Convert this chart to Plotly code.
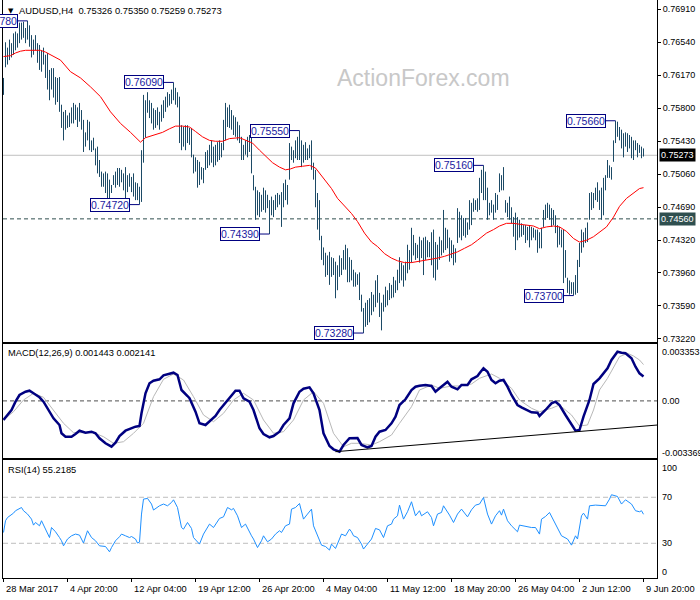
import plotly.graph_objects as go

# ---------------- data ----------------
symbol_title = "AUDUSD,H4"
last_bar = [0.75326, 0.75350, 0.75259, 0.75273]   # open, high, low, close of the last bar

# H4 bars, index 0 = 28 Mar 2017 ... index 320 = 9 Jun 20:00
high = [
    0.7614, 0.7654, 0.7648, 0.7657, 0.7653, 0.7664, 0.7666, 0.7664, 0.7676, 0.7676,
    0.7677, 0.7670, 0.7678, 0.7673, 0.7662, 0.7657, 0.7662, 0.7653, 0.7651, 0.7645,
    0.7648, 0.7640, 0.7642, 0.7623, 0.7625, 0.7625, 0.7615, 0.7614, 0.7615, 0.7584,
    0.7576, 0.7578, 0.7572, 0.7575, 0.7581, 0.7586, 0.7584, 0.7581, 0.7586, 0.7578,
    0.7567, 0.7553, 0.7567, 0.7565, 0.7544, 0.7547, 0.7535, 0.7537, 0.7522, 0.7509,
    0.7507, 0.7509, 0.7507, 0.7500, 0.7494, 0.7505, 0.7509, 0.7513, 0.7513, 0.7511,
    0.7507, 0.7514, 0.7505, 0.7507, 0.7503, 0.7507, 0.7497, 0.7496, 0.7492, 0.7533,
    0.7595, 0.7589, 0.7598, 0.7589, 0.7586, 0.7580, 0.7578, 0.7581, 0.7576, 0.7584,
    0.7589, 0.7593, 0.7598, 0.7596, 0.7601, 0.7609, 0.7603, 0.7598, 0.7593, 0.7561,
    0.7559, 0.7561, 0.7561, 0.7558, 0.7558, 0.7528, 0.7525, 0.7522, 0.7520, 0.7514,
    0.7513, 0.7531, 0.7533, 0.7539, 0.7544, 0.7537, 0.7539, 0.7542, 0.7544, 0.7541,
    0.7567, 0.7586, 0.7581, 0.7584, 0.7578, 0.7572, 0.7570, 0.7565, 0.7561, 0.7548,
    0.7539, 0.7544, 0.7548, 0.7550, 0.7553, 0.7505, 0.7492, 0.7488, 0.7486, 0.7483,
    0.7491, 0.7488, 0.7483, 0.7477, 0.7481, 0.7477, 0.7483, 0.7485, 0.7483, 0.7486,
    0.7496, 0.7500, 0.7494, 0.7541, 0.7537, 0.7533, 0.7544, 0.7548, 0.7555, 0.7544,
    0.7539, 0.7542, 0.7535, 0.7539, 0.7544, 0.7519, 0.7511, 0.7485, 0.7477, 0.7437,
    0.7424, 0.7418, 0.7415, 0.7419, 0.7413, 0.7412, 0.7408, 0.7404, 0.7415, 0.7412,
    0.7421, 0.7427, 0.7423, 0.7413, 0.7410, 0.7399, 0.7396, 0.7394, 0.7396, 0.7371,
    0.7356, 0.7362, 0.7365, 0.7367, 0.7374, 0.7371, 0.7387, 0.7393, 0.7373, 0.7362,
    0.7371, 0.7380, 0.7376, 0.7384, 0.7382, 0.7391, 0.7387, 0.7399, 0.7413, 0.7407,
    0.7404, 0.7408, 0.7427, 0.7421, 0.7446, 0.7438, 0.7429, 0.7427, 0.7436, 0.7432,
    0.7435, 0.7436, 0.7432, 0.7430, 0.7441, 0.7444, 0.7430, 0.7427, 0.7436, 0.7432,
    0.7466, 0.7446, 0.7444, 0.7435, 0.7432, 0.7427, 0.7423, 0.7468, 0.7464, 0.7460,
    0.7457, 0.7457, 0.7452, 0.7477, 0.7474, 0.7479, 0.7477, 0.7479, 0.7502, 0.7511,
    0.7516, 0.7509, 0.7491, 0.7474, 0.7477, 0.7472, 0.7485, 0.7483, 0.7507, 0.7505,
    0.7514, 0.7477, 0.7474, 0.7481, 0.7469, 0.7458, 0.7463, 0.7458, 0.7455, 0.7451,
    0.7449, 0.7449, 0.7447, 0.7449, 0.7447, 0.7446, 0.7444, 0.7444, 0.7441, 0.7446,
    0.7466, 0.7472, 0.7474, 0.7472, 0.7468, 0.7466, 0.7460, 0.7449, 0.7447, 0.7444,
    0.7444, 0.7421, 0.7390, 0.7387, 0.7385, 0.7385, 0.7393, 0.7410, 0.7429, 0.7444,
    0.7441, 0.7446, 0.7452, 0.7485, 0.7486, 0.7485, 0.7491, 0.7497, 0.7488, 0.7491,
    0.7502, 0.7505, 0.7522, 0.7516, 0.7514, 0.7544, 0.7566, 0.7565, 0.7559, 0.7556,
    0.7552, 0.7553, 0.7552, 0.7550, 0.7548, 0.7544, 0.7544, 0.7541, 0.7539, 0.7537,
    0.75350,
]
low = [
    0.7595, 0.7626, 0.7629, 0.7634, 0.7637, 0.7640, 0.7645, 0.7648, 0.7653, 0.7657,
    0.7659, 0.7653, 0.7657, 0.7649, 0.7637, 0.7640, 0.7645, 0.7631, 0.7623, 0.7621,
    0.7629, 0.7614, 0.7601, 0.7589, 0.7601, 0.7592, 0.7584, 0.7587, 0.7576, 0.7558,
    0.7544, 0.7556, 0.7558, 0.7559, 0.7563, 0.7563, 0.7567, 0.7559, 0.7565, 0.7556,
    0.7531, 0.7537, 0.7544, 0.7533, 0.7531, 0.7533, 0.7516, 0.7507, 0.7503, 0.7492,
    0.7492, 0.7485, 0.7477, 0.7477, 0.7485, 0.7494, 0.7491, 0.7494, 0.7492, 0.7497,
    0.7488, 0.7477, 0.7486, 0.7492, 0.7486, 0.7481, 0.7477, 0.7477, 0.7472, 0.7475,
    0.7519, 0.7547, 0.7575, 0.7569, 0.7563, 0.7556, 0.7558, 0.7561, 0.7556, 0.7565,
    0.7569, 0.7576, 0.7581, 0.7583, 0.7585, 0.7589, 0.7584, 0.7581, 0.7541, 0.7533,
    0.7537, 0.7533, 0.7541, 0.7539, 0.7525, 0.7507, 0.7509, 0.7491, 0.7494, 0.7500,
    0.7496, 0.7511, 0.7513, 0.7516, 0.7519, 0.7514, 0.7516, 0.7520, 0.7522, 0.7525,
    0.7533, 0.7544, 0.7559, 0.7558, 0.7556, 0.7550, 0.7548, 0.7544, 0.7541, 0.7522,
    0.7522, 0.7528, 0.7525, 0.7531, 0.7507, 0.7488, 0.7455, 0.7460, 0.7458, 0.7464,
    0.7466, 0.7463, 0.7468, 0.7439, 0.7460, 0.7458, 0.7466, 0.7469, 0.7472, 0.7447,
    0.7469, 0.7477, 0.7472, 0.7500, 0.7522, 0.7519, 0.7524, 0.7522, 0.7522, 0.7514,
    0.7519, 0.7522, 0.7522, 0.7524, 0.7511, 0.7500, 0.7469, 0.7444, 0.7432, 0.7410,
    0.7404, 0.7391, 0.7393, 0.7382, 0.7391, 0.7393, 0.7367, 0.7376, 0.7391, 0.7393,
    0.7399, 0.7399, 0.7385, 0.7385, 0.7387, 0.7380, 0.7380, 0.7382, 0.7365, 0.7352,
    0.7328, 0.7335, 0.7337, 0.7340, 0.7348, 0.7352, 0.7357, 0.7362, 0.7346, 0.7331,
    0.7352, 0.7357, 0.7359, 0.7365, 0.7367, 0.7368, 0.7373, 0.7376, 0.7384, 0.7387,
    0.7380, 0.7387, 0.7395, 0.7399, 0.7407, 0.7415, 0.7410, 0.7412, 0.7407, 0.7412,
    0.7393, 0.7410, 0.7413, 0.7413, 0.7404, 0.7390, 0.7387, 0.7399, 0.7410, 0.7415,
    0.7418, 0.7421, 0.7423, 0.7408, 0.7412, 0.7404, 0.7407, 0.7429, 0.7435, 0.7432,
    0.7437, 0.7435, 0.7438, 0.7444, 0.7449, 0.7464, 0.7466, 0.7464, 0.7466, 0.7485,
    0.7477, 0.7477, 0.7455, 0.7460, 0.7463, 0.7455, 0.7463, 0.7466, 0.7486, 0.7488,
    0.7488, 0.7463, 0.7458, 0.7455, 0.7451, 0.7436, 0.7421, 0.7432, 0.7435, 0.7436,
    0.7438, 0.7429, 0.7432, 0.7424, 0.7432, 0.7435, 0.7432, 0.7418, 0.7423, 0.7423,
    0.7447, 0.7455, 0.7457, 0.7455, 0.7447, 0.7449, 0.7440, 0.7424, 0.7427, 0.7424,
    0.7384, 0.7390, 0.7373, 0.7371, 0.7372, 0.7370, 0.7371, 0.7373, 0.7402, 0.7418,
    0.7424, 0.7429, 0.7430, 0.7455, 0.7466, 0.7468, 0.7477, 0.7475, 0.7466, 0.7455,
    0.7460, 0.7488, 0.7502, 0.7502, 0.7500, 0.7520, 0.7541, 0.7548, 0.7544, 0.7535,
    0.7525, 0.7537, 0.7531, 0.7535, 0.7524, 0.7522, 0.7533, 0.7525, 0.7530, 0.7524,
    0.75259,
]

# moving average (red), sampled along the bar index
ma_index = [0, 3.5, 6, 8.5, 11, 13.5, 18.5, 21, 23.5, 28.5, 33.5, 38.5, 43.5, 48.5, 53.5,
            58.5, 63.5, 66, 68.5, 71, 73.5, 79.5, 83, 86, 89.5, 93, 96, 99.5, 103, 106,
            109.5, 113, 118, 121, 124.5, 128, 131, 134.5, 138, 141, 143.5, 146, 149.5,
            153, 156, 160, 164, 167, 170.5, 174, 177, 180.5, 184, 187, 190.5, 194, 197,
            200.5, 204, 207, 210.5, 214, 217, 220.5, 224, 227, 230.5, 234, 237, 241.5,
            245, 248, 251.5, 255, 258, 261.5, 265, 268, 271.5, 275, 278, 281.5, 285, 288,
            291.5, 295, 298, 301.5, 305, 308, 311.5, 315, 318, 320]
ma_value = [0.7638, 0.7639, 0.7642, 0.7644, 0.7645, 0.7645, 0.7645, 0.7643, 0.7640, 0.7634,
            0.7621, 0.7614, 0.7604, 0.7593, 0.7576, 0.7563, 0.7553, 0.7548, 0.7542, 0.7547,
            0.7549, 0.7553, 0.7557, 0.7560, 0.7560, 0.7559, 0.7554, 0.7548, 0.7544, 0.7543,
            0.7543, 0.7546, 0.7547, 0.7544, 0.7541, 0.7533, 0.7526, 0.7519, 0.7514, 0.7511,
            0.7512, 0.7514, 0.7515, 0.7516, 0.7513, 0.7501, 0.7490, 0.7479, 0.7470, 0.7462,
            0.7453, 0.7440, 0.7430, 0.7425, 0.7417, 0.7412, 0.7409, 0.7407, 0.7407, 0.7408,
            0.7410, 0.7411, 0.7412, 0.7414, 0.7417, 0.7419, 0.7423, 0.7427, 0.7432, 0.7440,
            0.7444, 0.7448, 0.7451, 0.7451, 0.7450, 0.7449, 0.7448, 0.7445, 0.7447, 0.7448,
            0.7447, 0.7442, 0.7434, 0.7430, 0.7432, 0.7436, 0.7441, 0.7447, 0.7458, 0.7470,
            0.7479, 0.7485, 0.7490, 0.7491]

# labelled swing highs / lows
swing_index = [12, 85, 68, 148, 133, 180, 240, 285, 306]
swing_price = [0.7678, 0.7609, 0.7472, 0.7555, 0.7439, 0.7328, 0.7516, 0.7370, 0.7566]
support_level = 0.74560

# MACD(12,26,9)
macd_index = [0, 4, 6, 8, 11, 13, 15, 18, 20, 23, 25, 28, 29, 31, 34, 36, 38, 41, 44, 46,
              48, 51, 54, 56, 58, 61, 64, 66, 68, 69, 71, 73, 75, 78, 80, 83, 85, 87, 89, 92,
              93, 96, 98, 101, 104, 106, 108, 111, 114, 116, 118, 120, 123, 125, 128, 130,
              133, 135, 138, 140, 143, 145, 148, 150, 153, 155, 158, 160, 163, 165, 168, 170,
              173, 177, 179, 182, 184, 186, 188, 191, 194, 196, 198, 201, 204, 206, 208, 211,
              214, 216, 218, 222, 224, 227, 229, 232, 234, 237, 238, 240, 242, 244, 246, 248,
              250, 252, 254, 257, 259, 262, 264, 267, 268, 271, 274, 276, 278, 281, 284, 286,
              288, 290, 293, 295, 298, 300, 302, 304, 307, 309, 311, 314, 316, 318, 320]
macd_value = [-0.001126, -0.000537, -0.000047, 0.000348, 0.000542, 0.000601, 0.000448,
              0.000212, -0.000047, -0.000637, -0.001026, -0.001421, -0.001911, -0.002111,
              -0.002111, -0.001952, -0.001757, -0.001875, -0.001816, -0.001911, -0.002205,
              -0.002500, -0.002701, -0.002465, -0.002070, -0.001757, -0.001616, -0.001521,
              -0.001480, -0.000731, 0.000448, 0.001038, 0.001191, 0.001274, 0.001510,
              0.001627, 0.001663, 0.001527, 0.000643, 0.000289, 0.000153, -0.000637,
              -0.001321, -0.001421, -0.001126, -0.000890, -0.000537, -0.000106, 0.000348,
              0.000601, 0.000601, 0.000153, -0.000047, -0.000537, -0.001616, -0.001952,
              -0.002146, -0.002070, -0.001816, -0.001421, -0.001026, -0.000142, 0.000542,
              0.000719, 0.000802, 0.000448, -0.000537, -0.001911, -0.002659, -0.002854,
              -0.002995, -0.002600, -0.002205, -0.002188, -0.002600, -0.002736, -0.002659,
              -0.002111, -0.001816, -0.001716, -0.001321, -0.000932, -0.000242, 0.000094,
              0.000643, 0.000837, 0.000896, 0.000938, 0.000879, 0.000542, 0.000743,
              0.001132, 0.000837, 0.000684, 0.000938, 0.000938, 0.001274, 0.001468,
              0.001627, 0.001922, 0.001722, 0.001232, 0.001038, 0.001191, 0.001232,
              0.000837, 0.000348, -0.000242, -0.000377, -0.000537, -0.000672, -0.000696,
              -0.000890, -0.000537, -0.000142, -0.000047, -0.000242, -0.000831, -0.001421,
              -0.001757, -0.001716, -0.000932, 0.000053, 0.000997, 0.001333, 0.001627,
              0.001922, 0.002412, 0.002901, 0.002842, 0.002807, 0.002512, 0.002017,
              0.001627, 0.001443]
signal_index = [0, 5, 10, 15, 20, 25, 30, 35, 40, 45, 50, 55, 60, 65, 70, 75, 80, 85, 90, 95,
                100, 105, 110, 115, 120, 125, 130, 135, 140, 145, 150, 155, 160, 165, 170,
                174, 178, 184, 188, 194, 198, 204, 208, 214, 218, 224, 228, 234, 238, 244,
                248, 254, 258, 264, 268, 274, 278, 284, 288, 292, 295, 298, 302, 305, 308,
                312, 315, 318, 320]
signal_value = [-0.001126, -0.000637, 0.000053, 0.000448, 0.000212, -0.000537, -0.001321,
                -0.001875, -0.001875, -0.001875, -0.002111, -0.002500, -0.002406, -0.001911,
                -0.001321, 0.000248, 0.001274, 0.001586, 0.001232, 0.000248, -0.000831,
                -0.001226, -0.000731, 0.000053, 0.000448, 0.000053, -0.001126, -0.001911,
                -0.001816, -0.001126, 0.000053, 0.000542, -0.000142, -0.001911, -0.002701,
                -0.002500, -0.002500, -0.002600, -0.002406, -0.002011, -0.001321, -0.000342,
                0.000643, 0.000938, 0.000743, 0.000879, 0.000879, 0.000997, 0.001333,
                0.001586, 0.001333, 0.000743, 0.000053, -0.000436, -0.000637, -0.000436,
                -0.000242, -0.000831, -0.001480, -0.001421, -0.000537, 0.000643, 0.001333,
                0.002017, 0.002606, 0.002807, 0.002648, 0.002412, 0.002141]
macd_trend_index = [166, 327]
macd_trend_value = [-0.002995, -0.001421]
macd_max, macd_min = 0.003353, -0.003369

# RSI(14)
rsi_index = [0, 1, 2, 4, 5, 6, 8, 9, 10, 12, 14, 15, 16, 18, 19, 21, 23, 24, 26, 28, 29, 30,
             32, 34, 36, 38, 40, 42, 44, 46, 48, 51, 53, 54, 56, 58, 59, 61, 63, 64, 66, 67,
             68, 69, 70, 72, 74, 75, 78, 80, 82, 84, 85, 87, 89, 90, 92, 94, 95, 98, 100, 103,
             105, 108, 110, 112, 114, 115, 117, 119, 121, 124, 125, 127, 129, 130, 132, 134,
             136, 138, 139, 141, 143, 144, 146, 148, 149, 150, 152, 154, 155, 157, 159, 161,
             163, 164, 166, 168, 169, 171, 173, 174, 175, 177, 179, 180, 182, 184, 186, 188,
             190, 192, 194, 195, 197, 198, 200, 202, 204, 206, 208, 209, 212, 214, 215, 217,
             219, 220, 223, 225, 227, 229, 232, 234, 236, 238, 240, 242, 244, 246, 248, 249,
             250, 252, 254, 257, 258, 261, 264, 266, 268, 269, 271, 273, 275, 277, 279, 282,
             284, 286, 287, 289, 290, 292, 293, 296, 299, 301, 303, 304, 307, 309, 311, 314,
             316, 318, 319, 320]
rsi_value = [39.4, 49.6, 52.4, 54.5, 56.2, 58.3, 59.7, 61.1, 58.3, 55.4, 51.0, 45.8, 48.1,
             45.2, 49.6, 42.9, 35.0, 43.7, 40.0, 35.0, 32.2, 27.8, 33.7, 36.5, 38.0, 37.1,
             30.2, 40.9, 35.0, 32.2, 27.8, 27.2, 22.6, 26.3, 32.2, 35.7, 38.0, 36.5, 35.0,
             35.9, 33.7, 30.2, 31.0, 55.4, 68.4, 69.0, 64.1, 58.9, 62.6, 64.1, 62.6, 65.5,
             67.8, 61.1, 43.7, 42.3, 48.1, 42.9, 35.0, 29.3, 38.0, 46.7, 43.7, 51.6, 53.0,
             61.1, 59.1, 60.3, 53.9, 43.7, 46.7, 36.5, 33.7, 26.3, 32.2, 36.5, 31.3, 33.7,
             38.0, 40.9, 39.4, 45.2, 46.7, 59.7, 61.1, 64.6, 58.3, 51.0, 55.4, 59.7, 45.2,
             36.5, 28.4, 27.2, 24.1, 29.3, 25.5, 33.7, 38.0, 36.5, 42.3, 40.0, 36.5, 35.0,
             29.3, 25.0, 29.3, 33.7, 42.9, 41.7, 35.0, 45.2, 46.7, 51.0, 53.9, 63.2, 51.0,
             57.4, 66.1, 53.9, 58.3, 53.9, 57.4, 52.4, 45.2, 55.4, 56.8, 62.6, 54.5, 48.1,
             55.4, 59.7, 53.0, 59.1, 63.2, 64.1, 69.8, 55.4, 46.7, 53.9, 58.3, 54.5, 59.7,
             49.6, 45.2, 40.0, 45.8, 44.6, 43.7, 43.7, 38.0, 51.0, 53.3, 56.8, 49.6, 43.7,
             36.5, 33.7, 28.4, 36.5, 33.7, 53.9, 56.2, 51.0, 62.6, 63.2, 63.2, 62.6, 68.4,
             72.2, 70.7, 64.1, 67.8, 64.1, 58.3, 57.4, 58.3, 55.2185]
rsi_levels = [70, 30]

# axis ticks
price_ticks = [0.76910, 0.76540, 0.76170, 0.75800, 0.75430, 0.75060, 0.74690, 0.74320,
               0.73960, 0.73590, 0.73220]
x_tick_index = [0, 32, 64, 96, 128, 160, 192, 224, 256, 288, 320]
x_tick_text = ["28 Mar 2017", "4 Apr 20:00", "12 Apr 04:00", "19 Apr 12:00", "26 Apr 20:00",
               "4 May 04:00", "11 May 12:00", "18 May 20:00", "26 May 04:00", "2 Jun 12:00",
               "9 Jun 20:00"]

# ---------------- figure ----------------
FONT = "Liberation Sans, Arial, sans-serif"
BAR_C = "#1c4a66"
NAVY = "#000080"

W, H = 700, 600
ML, MR, MT, MB = 3, 43, 0, 22
PW, PH = W - ML - MR, H - MT - MB


def px_x(px):
    return (px - ML) / PW


def px_y(py):
    return (H - MB - py) / PH


bx, by = [], []
for i, (h, l) in enumerate(zip(high, low)):
    bx += [i, i, None]
    by += [l, h, None]

fig = go.Figure()
fig.add_trace(go.Scatter(x=bx, y=by, mode="lines", line=dict(color=BAR_C, width=1),
                         xaxis="x", yaxis="y", hoverinfo="skip"))
fig.add_trace(go.Scatter(x=ma_index, y=ma_value, mode="lines", line=dict(color="#ff0000", width=1),
                         xaxis="x", yaxis="y", hoverinfo="skip"))
fig.add_trace(go.Scatter(x=signal_index, y=signal_value, mode="lines",
                         line=dict(color="#b8b8b8", width=1), xaxis="x2", yaxis="y2"))
fig.add_trace(go.Scatter(x=macd_index, y=macd_value, mode="lines",
                         line=dict(color=NAVY, width=2.5), xaxis="x2", yaxis="y2"))
fig.add_trace(go.Scatter(x=macd_trend_index, y=macd_trend_value, mode="lines",
                         line=dict(color="#000000", width=1), xaxis="x2", yaxis="y2"))
fig.add_trace(go.Scatter(x=rsi_index, y=rsi_value, mode="lines",
                         line=dict(color="#1e90ff", width=1), xaxis="x3", yaxis="y3"))

xr = [-0.25, -0.25 + PW / 2.0]
ax_common = dict(range=xr, showline=True, mirror=True, linecolor="black", linewidth=1,
                 showgrid=False, zeroline=False, showticklabels=False)

main_lo = 0.77014 - 0.00011212 * 342
main_hi = 0.77014
fig.update_layout(
    width=W, height=H, margin=dict(l=ML, r=MR, t=MT, b=MB),
    paper_bgcolor="white", plot_bgcolor="white", showlegend=False,
    font=dict(family=FONT, size=9, color="black"),
    xaxis=dict(domain=[0, 1], anchor="y", ticks="", **ax_common),
    xaxis2=dict(domain=[0, 1], anchor="y2", matches="x", ticks="", **ax_common),
    xaxis3=dict(domain=[0, 1], anchor="y3", matches="x", ticks="outside", ticklen=3,
                tickcolor="black", tickvals=x_tick_index, **ax_common),
    yaxis=dict(domain=[236 / PH, 1], range=[main_lo, main_hi], side="right", anchor="x",
               showline=True, mirror=True, linecolor="black", linewidth=1, showgrid=False,
               zeroline=False, tickvals=price_ticks, ticktext=[f"{v:.5f}" for v in price_ticks],
               ticks="outside", ticklen=3, tickcolor="black",
               tickfont=dict(family=FONT, size=9, color="black")),
    yaxis2=dict(domain=[120 / PH, 234 / PH], range=[-0.003367, 0.003355], side="right", anchor="x2",
                showline=True, mirror=True, linecolor="black", linewidth=1, showgrid=False,
                zeroline=False, showticklabels=False),
    yaxis3=dict(domain=[0, 118 / PH], range=[-0.17, 102.4], side="right", anchor="x3",
                showline=True, mirror=True, linecolor="black", linewidth=1, showgrid=False,
                zeroline=False, showticklabels=False),
)

shapes = []
# current price line and support level
shapes.append(dict(type="line", xref="x domain", yref="y", x0=0, x1=1, y0=last_bar[3], y1=last_bar[3],
                   line=dict(color="#c0c0c0", width=1), layer="below"))
shapes.append(dict(type="line", xref="x domain", yref="y", x0=0, x1=1, y0=support_level, y1=support_level,
                   line=dict(color="#2f4f4f", width=1, dash="4px,3px"), layer="below"))
# MACD zero line
shapes.append(dict(type="line", xref="x2 domain", yref="y2", x0=0, x1=1, y0=0, y1=0,
                   line=dict(color="#505050", width=1, dash="4px,3px"), layer="below"))
# RSI levels
for lv in rsi_levels:
    shapes.append(dict(type="line", xref="x3 domain", yref="y3", x0=0, x1=1, y0=lv, y1=lv,
                       line=dict(color="#bdbdbd", width=1, dash="5px,3px"), layer="below"))
# swing label connectors
for si, sp in zip(swing_index, swing_price):
    shapes.append(dict(type="line", xref="x", yref="y", x0=si - 5, x1=si, y0=sp, y1=sp,
                       line=dict(color=NAVY, width=1)))
fig.update_layout(shapes=shapes)

ann = []
# swing labels
for si, sp in zip(swing_index, swing_price):
    ann.append(dict(x=si - 5, y=sp, xref="x", yref="y", text=f"{sp:.5f}", showarrow=False,
                    xanchor="right", yanchor="middle", bgcolor="white", bordercolor=NAVY,
                    borderwidth=1, borderpad=0, font=dict(family=FONT, size=10.5, color="#1a1aa0")))
# right side highlighted prices
ann.append(dict(x=px_x(659), y=last_bar[3], xref="paper", yref="y", text=f"{last_bar[3]:.5f}",
                showarrow=False, xanchor="left", yanchor="middle", bgcolor="black", borderpad=1,
                font=dict(family=FONT, size=9, color="white")))
ann.append(dict(x=px_x(659), y=support_level, xref="paper", yref="y", text=f"{support_level:.5f}",
                showarrow=False, xanchor="left", yanchor="middle", bgcolor="#2f4f4f", borderpad=1,
                font=dict(family=FONT, size=9, color="white")))
# MACD / RSI scale labels
for txt, py in [(f"{macd_max:.6f}", 352), ("0.00", 401), (f"{macd_min:.6f}", 452.7),
                ("100", 467.7), ("70", 497.3), ("30", 543.3), ("0", 572.3)]:
    ann.append(dict(x=px_x(660), y=px_y(py), xref="paper", yref="paper", text=txt, showarrow=False,
                    xanchor="left", yanchor="middle", font=dict(family=FONT, size=9, color="black")))
# indicator captions
ann.append(dict(x=px_x(6), y=px_y(353.3), xref="paper", yref="paper",
                text=f"MACD(12,26,9) {macd_value[-1]:.6f} {signal_value[-1]:.6f}", showarrow=False,
                xanchor="left", yanchor="middle", font=dict(family=FONT, size=9.3, color="black")))
ann.append(dict(x=px_x(6), y=px_y(470), xref="paper", yref="paper",
                text=f"RSI(14) {rsi_value[-1]:.4f}", showarrow=False,
                xanchor="left", yanchor="middle", font=dict(family=FONT, size=9.3, color="black")))
# title
ann.append(dict(x=px_x(6), y=px_y(10.5), xref="paper", yref="paper", text="▼", showarrow=False,
                xanchor="left", yanchor="middle", font=dict(family="DejaVu Sans", size=7, color="black")))
ann.append(dict(x=px_x(17), y=px_y(11), xref="paper", yref="paper",
                text=f"{symbol_title}  " + " ".join(f"{v:.5f}" for v in last_bar), showarrow=False,
                xanchor="left", yanchor="middle", font=dict(family=FONT, size=9.4, color="black")))
# watermark
ann.append(dict(x=px_x(423), y=px_y(78), xref="paper", yref="paper", text="ActionForex.com",
                showarrow=False, xanchor="center", yanchor="middle",
                font=dict(family=FONT, size=23, color="#c8c8c8")))
# x labels
for xi, xt in zip(x_tick_index, x_tick_text):
    ann.append(dict(x=xi, y=px_y(589), xref="x3", yref="paper", text=xt, showarrow=False,
                    xanchor="left", yanchor="middle", font=dict(family=FONT, size=9.3, color="black")))
fig.update_layout(annotations=ann)

fig.write_html("out.html", config={"displayModeBar": False},
               post_script="document.body.style.margin='0';document.body.style.overflow='hidden';")
